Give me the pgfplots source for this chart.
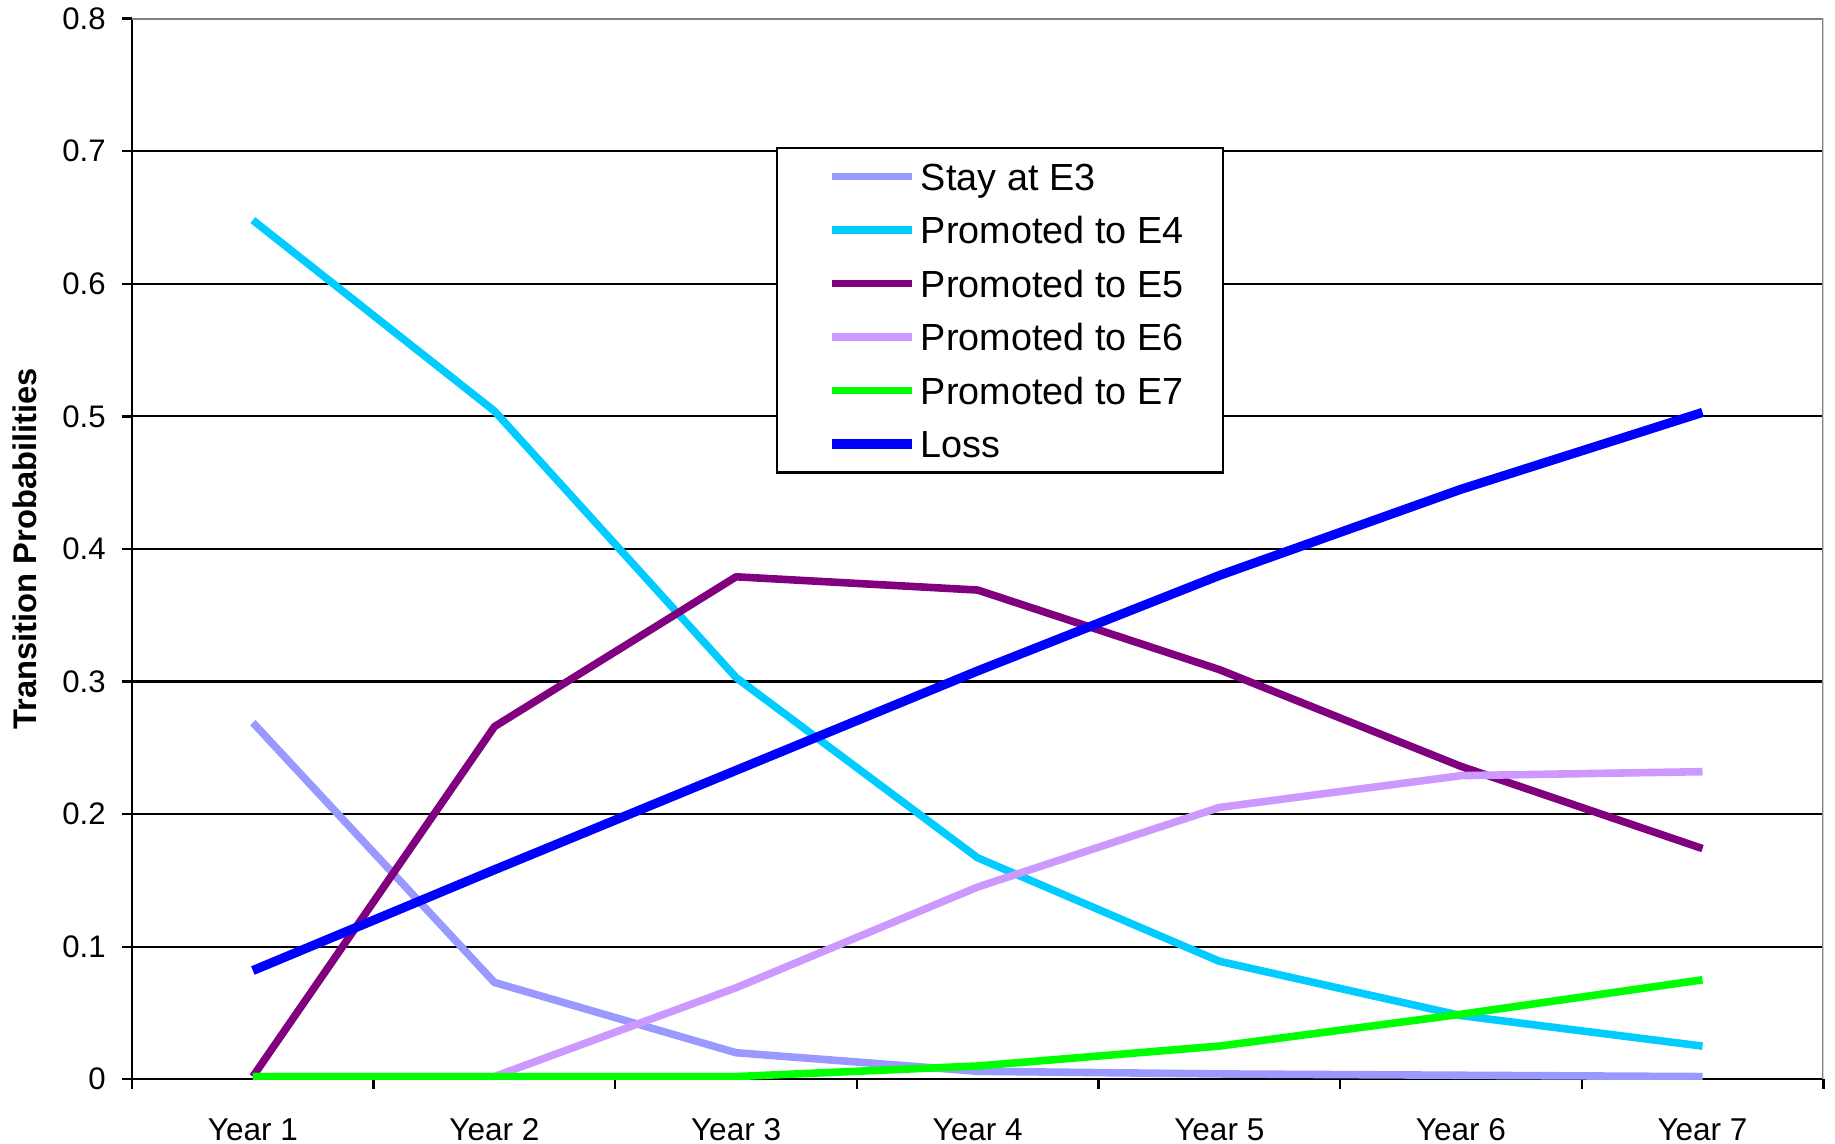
\documentclass[border=0pt]{standalone}
\usepackage{fontspec}
\setmainfont{Liberation Sans}
\usepackage{pgfplots}
\pgfplotsset{compat=1.18}

\definecolor{stayE3}{HTML}{9999FF}
\definecolor{promE4}{HTML}{00CCFF}
\definecolor{promE5}{HTML}{800080}
\definecolor{promE6}{HTML}{CC99FF}
\definecolor{promE7}{HTML}{00FF00}
\definecolor{lossC}{HTML}{0000FF}
\definecolor{frameGray}{HTML}{808080}

\begin{document}
\begin{tikzpicture}
\begin{axis}[
  scale only axis,
  width=434.4pt, height=272.4pt,
  xmin=0.5, xmax=7.5,
  ymin=0, ymax=0.8,
  xtick={0.5,1.5,2.5,3.5,4.5,5.5,6.5,7.5},
  xticklabels={Year 1,Year 2,Year 3,Year 4,Year 5,Year 6,Year 7},
  x tick label as interval,
  ytick={0,0.1,0.2,0.3,0.4,0.5,0.6,0.7,0.8},
  axis x line*=bottom,
  axis y line*=left,
  axis line style={black, line width=0.6pt},
  tick align=outside,
  major tick length=2.5pt,
  tick style={black, line width=0.6pt},
  ymajorgrids,
  major grid style={black, line width=0.55pt},
  /pgf/number format/assume math mode=true,
  yticklabel style={/pgf/number format/fixed, /pgf/number format/precision=1,
    font=\fontsize{8}{9}\selectfont, inner sep=0pt, anchor=east, xshift=-4.1pt},
  xticklabel style={font=\fontsize{8.1}{9}\selectfont, inner sep=0pt, anchor=north, yshift=-7.5pt},
  ylabel={Transition Probabilities},
  every axis y label/.style={at={([xshift=-27.5pt]axis description cs:0,0.5)}, rotate=90, anchor=center,
    font=\fontsize{8.4}{10}\selectfont\bfseries},
  legend cell align=left,
  legend style={
    at={(rel axis cs:0.3805,0.879)}, anchor=north west,
    draw=black, line width=0.6pt, fill=white,
    font=\fontsize{9.7}{11}\selectfont,
    inner xsep=10.2pt, inner ysep=3.8pt,
    nodes={inner sep=0pt, text height=7pt, text depth=0pt},
    row sep=6.74pt,
    /tikz/every odd column/.append style={column sep=1.1pt},
  },
  legend image code/.code={\path (-2.9pt,0pt); \draw[#1] (0pt,0pt) -- (20.5pt,0pt);},
  every axis plot/.append style={line width=1.95pt, line join=round},
]

\addplot[stayE3] coordinates {
  (1,0.269) (2,0.073) (3,0.020) (4,0.006) (5,0.004) (6,0.003) (7,0.002)};
\addlegendentry{Stay at E3}

\addplot[promE4] coordinates {
  (1,0.648) (2,0.504) (3,0.303) (4,0.167) (5,0.089) (6,0.048) (7,0.025)};
\addlegendentry{Promoted to E4}

\addplot[promE5] coordinates {
  (1,0.002) (2,0.266) (3,0.379) (4,0.369) (5,0.309) (6,0.236) (7,0.174)};
\addlegendentry{Promoted to E5}

\addplot[promE6] coordinates {
  (1,0.002) (2,0.002) (3,0.069) (4,0.145) (5,0.205) (6,0.229) (7,0.232)};
\addlegendentry{Promoted to E6}

\addplot[promE7] coordinates {
  (1,0.002) (2,0.002) (3,0.002) (4,0.010) (5,0.025) (6,0.049) (7,0.075)};
\addlegendentry{Promoted to E7}

\addplot[lossC, line width=2.35pt] coordinates {
  (1,0.082) (2,0.158) (3,0.233) (4,0.308) (5,0.380) (6,0.445) (7,0.503)};
\addlegendentry{Loss}

% plot-area frame on the top and right
\draw[frameGray, line width=0.6pt] (rel axis cs:0,1) -- (rel axis cs:1,1) -- (rel axis cs:1,0);
\end{axis}
% fixed margins round the plot area
\path ([shift={(-33pt,-16.5pt)}]current axis.south west) rectangle ([shift={(3pt,4.8pt)}]current axis.north east);
\end{tikzpicture}
\end{document}
